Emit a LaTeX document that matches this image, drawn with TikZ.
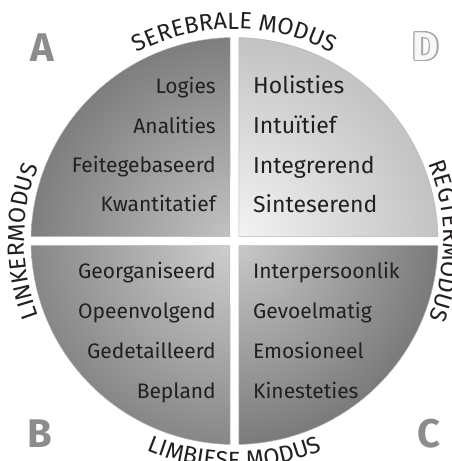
\documentclass[tikz,border=0pt]{standalone}
\usepackage{fontspec}
\setmainfont{Fira Sans}
\usepackage{contour}
\usetikzlibrary{decorations.text}
\definecolor{ink}{HTML}{231F20}
\definecolor{letter}{HTML}{8C8C8C}
\newcommand\curvefont{\fontsize{23.5}{23.5}\selectfont}
\newcommand\wordfont{\fontsize{21}{22}\selectfont}
\newcommand\bigwordfont{\fontsize{23}{25}\selectfont}
\newcommand\letterfont{\fontsize{40}{40}\selectfont\bfseries}
\tikzset{
  lefttext/.style={anchor=base east, text=ink, font=\wordfont, inner sep=0pt},
  righttext/.style={anchor=base west, text=ink, font=\wordfont, inner sep=0pt},
  bigtext/.style={righttext, font=\bigwordfont},
  quadletter/.style={text=letter, font=\letterfont, inner sep=0pt},
  curvetext/.style={decorate, decoration={text along path, text align=center, text color=ink, text={|\curvefont|#1}}}
}
\begin{document}
\begin{tikzpicture}[x=1pt,y=1pt,line join=round,line cap=round]
 \def\R{203.5}\def\g{4.5}
 \pgfmathsetmacro\d{asin(\g/\R)}
 \useasboundingbox (-234.5,-220) rectangle (217.5,241);
 \clip (-234.5,-220) rectangle (217.5,241);
 % four quarters with radial shading
 \foreach \a/\ci/\co in {90/C4C4C4/7E7E7E, 0/F4F4F4/C3C3C3, 180/D0D0D0/878787, 270/CACACA/7A7A7A}{
   \definecolor{qin}{HTML}{\ci}\definecolor{qout}{HTML}{\co}
   \begin{scope}
     \clip ({\a+45}:{\g*sqrt(2)}) -- ({\a+\d}:\R) arc[start angle=\a+\d, end angle=\a+90-\d, radius=\R] -- cycle;
     \shade[inner color=qin, outer color=qout] (0,0) circle (\R);
   \end{scope}
   \draw[gray!55, line width=0.5pt] ({\a+45}:{\g*sqrt(2)}) -- ({\a+\d}:\R) arc[start angle=\a+\d, end angle=\a+90-\d, radius=\R] -- cycle;
 }
 % words
 \foreach \w [count=\i] in {Logies,Analities,Feitegebaseerd,Kwantitatief}
   \node[lefttext] (a\i) at (-18.5,{147-39.2*(\i-1)}) {\w};
 \foreach \w [count=\i] in {Holisties,Intuïtief,Integrerend,Sinteserend}
   \node[bigtext] (d\i) at (18.5,{147-39.6*(\i-1)}) {\w};
 \foreach \w [count=\i] in {Georganiseerd,Opeenvolgend,Gedetailleerd,Bepland}
   \node[lefttext] (b\i) at (-18.5,{-37-40*(\i-1)}) {\w};
 \foreach \w [count=\i] in {Interpersoonlik,Gevoelmatig,Emosioneel,Kinesteties}
   \node[righttext] (c\i) at (18.5,{-37-40*(\i-1)}) {\w};
 % modes round the circle
 \path[curvetext={SEREBRALE MODUS}] (150:212) arc[start angle=150, end angle=30, radius=212];
 \path[curvetext={LINKERMODUS}] (240:210) arc[start angle=240, end angle=120, radius=210];
 \path[curvetext={REGTERMODUS}] (60:209) arc[start angle=60, end angle=-60, radius=209];
 \path[curvetext={LIMBIESE MODUS}] (210:227) arc[start angle=210, end angle=330, radius=227];
 % quadrant letters
 \node[quadletter] (qa) at (-192.5,193) {A};
 \node[quadletter] (qb) at (-194.5,-193) {B};
 \node[quadletter] (qc) at (194.5,-193) {C};
 \contourlength{1.1pt}
 \node[quadletter, text=white!94!gray] (qd) at (191.5,194) {\contour{gray!70}{D}};
\end{tikzpicture}
\end{document}
